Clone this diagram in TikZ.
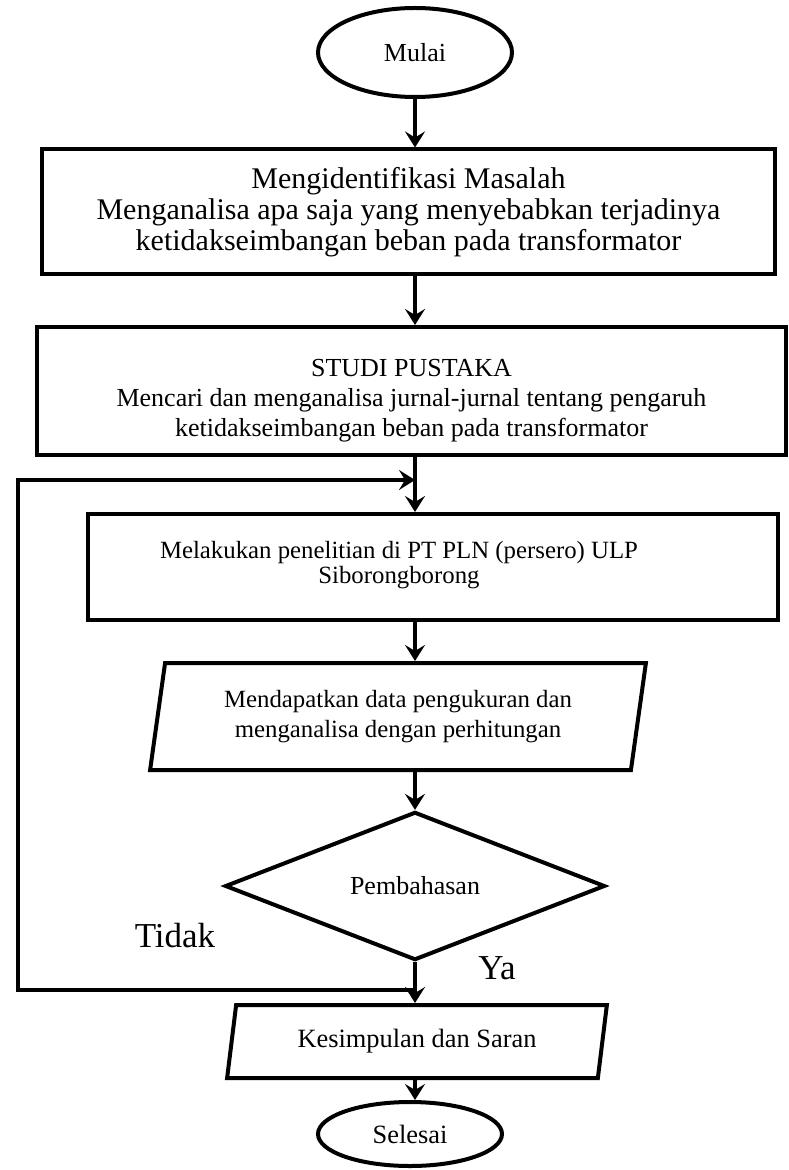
\documentclass[tikz,border=0pt]{standalone}
\usepackage{fontspec}
\setmainfont{Liberation Serif}
\usetikzlibrary{arrows.meta,shapes.geometric}

\begin{document}
\begin{tikzpicture}[
  x=0.5pt, y=-0.5pt,
  >={Stealth[length=8pt,width=10pt,inset=3pt]},
  font=\fontsize{13}{15}\selectfont,
  terminal/.style={draw, ellipse, line width=2pt, inner sep=0pt},
  process/.style={draw, line width=2pt, align=center, inner sep=0pt},
  dataio/.style={draw, trapezium, trapezium stretches=true, trapezium left angle=78, trapezium right angle=102, line width=2pt, align=center, inner sep=0pt},
  decision/.style={draw, diamond, line width=2pt, inner sep=0pt, minimum width=190pt, minimum height=64pt},
  arrow/.style={->, line width=2pt},
  flowline/.style={line width=2pt},
  answer/.style={font=\fontsize{17.5}{20}\selectfont}
]
\useasboundingbox (0,0) rectangle (788,1170);

\node[terminal, minimum width=97pt, minimum height=44.5pt] (mulai) at (415,52.5) {Mulai};
\node[process, minimum width=366.5pt, minimum height=62.5pt, font=\fontsize{15}{15.5}\selectfont] (identifikasi) at (408.5,212) {Mengidentifikasi Masalah\\Menganalisa apa saja yang menyebabkan terjadinya\\ketidakseimbangan beban pada transformator};
\node[process, minimum width=374.5pt, minimum height=64pt, label={[align=center, yshift=-5pt]center:STUDI PUSTAKA\\Mencari dan menganalisa jurnal-jurnal tentang pengaruh\\ketidakseimbangan beban pada transformator}] (studi) at (411.5,391) {};
\node[process, minimum width=345pt, minimum height=53pt, label={[align=center, font=\fontsize{12.4}{12.5}\selectfont, xshift=-17pt, yshift=1pt]center:Melakukan penelitian di PT PLN (persero) ULP\\Siborongborong}] (penelitian) at (433,567) {};
\node[dataio, minimum width=248pt, minimum height=53.5pt, font=\fontsize{12.4}{15}\selectfont] (data) at (398,716.5) {Mendapatkan data pengukuran dan\\menganalisa dengan perhitungan};
\node[decision] (pembahasan) at (415,886) {Pembahasan};
\node[dataio, trapezium left angle=76, trapezium right angle=104, minimum width=190pt, minimum height=36.5pt, font=\fontsize{13.2}{15}\selectfont] (kesimpulan) at (417,1041.5) {Kesimpulan dan Saran};
\node[terminal, minimum width=92pt, minimum height=32pt, font=\fontsize{13.2}{15}\selectfont] (selesai) at (410,1134) {Selesai};

\node[answer] (tidak) at (175,936) {Tidak};
\node[answer] (ya) at (497,968) {Ya};

\coordinate (tidakjoin) at (415,990);
\coordinate (loopcorner) at (18,480);
\coordinate (studijoin) at (415,480);

\draw[arrow] (mulai.south) -- (mulai.south |- identifikasi.north);
\draw[arrow] (identifikasi.south -| studijoin) -- (studijoin |- studi.north);
\draw[flowline] (studi.south -| studijoin) -- (studijoin);
\draw[arrow] (studijoin) -- (studijoin |- penelitian.north);
\draw[arrow] (penelitian.south -| studijoin) -- (studijoin |- data.north);
\draw[arrow] (data.south -| studijoin) -- (pembahasan.north);
\draw[arrow] (pembahasan.south) -- (pembahasan.south |- kesimpulan.north);
\draw[arrow] (kesimpulan.south -| studijoin) -- (studijoin |- selesai.north);
\draw[arrow] (tidakjoin) -| (loopcorner) -- (studijoin);
\end{tikzpicture}
\end{document}
